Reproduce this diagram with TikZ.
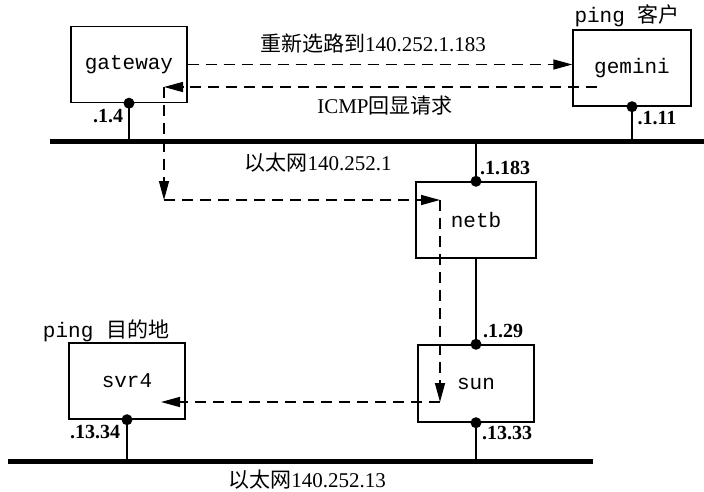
\documentclass[tikz,border=0pt]{standalone}
\usepackage{fontspec}
\setmainfont{Liberation Serif}
\setmonofont{Liberation Mono}
\newfontfamily\cjk{Noto Sans CJK SC}
\usetikzlibrary{arrows.meta}
\begin{document}
\begin{tikzpicture}[x=1pt,y=-1pt,
 host/.style={draw,line width=1.4pt,minimum width=116pt,minimum height=76pt,inner sep=0pt,font=\fontsize{21}{25}\selectfont\ttfamily},
 addr/.style={font=\fontsize{20}{24}\selectfont\bfseries,inner sep=0pt},
 lbl/.style={font=\fontsize{21}{25}\selectfont,inner sep=0pt},
 eth/.style={line width=5pt},
 tap/.style={line width=1.4pt},
 dot/.style={circle,fill,inner sep=0pt,minimum size=11pt},
 flow/.style={line width=1.5pt,dash pattern=on 11pt off 7pt,-{Triangle[length=19pt,width=10pt]}}
]
\useasboundingbox (0,0) rectangle (704,492);
% ethernets
\coordinate (e1a) at (50,142);
\coordinate (e1b) at (704,142);
\coordinate (e2a) at (8,461);
\coordinate (e2b) at (593,461);
\draw[eth] (e1a) -- (e1b);
\draw[eth] (e2a) -- (e2b);
% hosts
\node[host] (gw) at (129,64.5) {gateway};
\node[host,minimum width=118pt] (gem) at (632,68) {gemini};
\node[host,minimum width=120pt] (netb) at (476,220) {netb};
\node[host,minimum height=77pt] (sun) at (476,383.5) {sun};
\node[host] (svr) at (127,381) {svr4};
% taps
\draw[tap] (gw.south) -- (gw.south |- e1a);
\draw[tap] (gem.south) -- (gem.south |- e1a);
\draw[tap] (netb.north) -- (netb.north |- e1a);
\draw[tap] (netb.south) -- (sun.north);
\draw[tap] (sun.south) -- (sun.south |- e2a);
\draw[tap] (svr.south) -- (svr.south |- e2a);
\foreach \p in {gw.south,gem.south,netb.north,sun.north,sun.south,svr.south}
  \node[dot] at (\p) {};
% flow
\coordinate (p1) at (597,87);
\coordinate (p2) at (164,87);
\coordinate (p3) at (164,200);
\coordinate (p4) at (440,200);
\coordinate (p5) at (440,402);
\coordinate (p6) at (161,402);
\draw[flow] (gw.east) -- (gem.west |- gw.east);
\draw[flow] (p1) -- (p2);
\draw[flow] (p2) -- (p3);
\draw[flow] (p3) -- (p4);
\draw[flow] (p4) -- (p5);
\draw[flow] (p5) -- (p6);
% addresses
\node[addr] (a1) at (108,116) {.1.4};
\node[addr] (a2) at (657,118) {.1.11};
\node[addr] (a3) at (505,168) {.1.183};
\node[addr] (a4) at (503,331) {.1.29};
\node[addr] (a5) at (507,433) {.13.33};
\node[addr] (a6) at (95,432) {.13.34};
% labels
\node[lbl] (t1) at (373,43) {{\cjk 重新选路到}140.252.1.183};
\node[lbl] (t2) at (385,106) {ICMP{\cjk 回显请求}};
\node[lbl] (t3) at (318,163) {{\cjk 以太网}140.252.1};
\node[lbl] (t4) at (307,480) {{\cjk 以太网}140.252.13};
\node[lbl] (c1) at (627,16) {\ttfamily ping {\cjk 客户}};
\node[lbl] (c2) at (106,331) {\ttfamily ping {\cjk 目的地}};
\end{tikzpicture}
\end{document}
